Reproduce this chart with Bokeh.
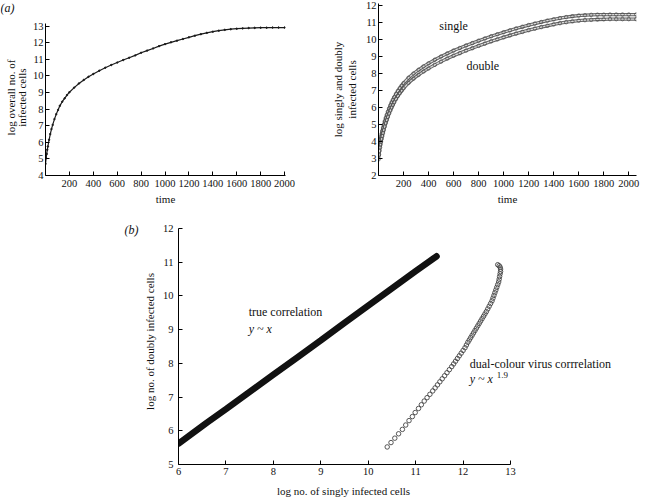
from math import pi
from bokeh.plotting import figure
from bokeh.layouts import column, row
from bokeh.models import FixedTicker, Label, Range1d
from bokeh.core.properties import value
from bokeh.embed import file_html
from bokeh.resources import INLINE

FONT = "Liberation Serif"

# ---- panel (a) left: overall infected cells ----
time_total = [0, 5, 10, 15, 20, 30, 40, 50, 60, 75, 90, 105, 120, 140, 160, 180, 200,
              240, 280, 320, 360, 400, 450, 500, 550, 600, 650, 700, 750, 800, 850, 900,
              950, 1000, 1050, 1100, 1150, 1200, 1250, 1300, 1350, 1400, 1450, 1500, 1550,
              1600, 1650, 1700, 1750, 1800, 1850, 1900, 1950, 2000]
log_total = [4.7, 5.05, 5.3, 5.55, 5.75, 6.15, 6.5, 6.8, 7.05, 7.4, 7.7, 7.95, 8.2, 8.45,
             8.65, 8.85, 9.02, 9.3, 9.55, 9.76, 9.95, 10.12, 10.32, 10.5, 10.66, 10.81,
             10.96, 11.1, 11.24, 11.4, 11.53, 11.66, 11.8, 11.92, 12.03, 12.13, 12.23,
             12.33, 12.43, 12.52, 12.6, 12.67, 12.73, 12.78, 12.82, 12.85, 12.87, 12.89,
             12.9, 12.91, 12.91, 12.92, 12.92, 12.92]

# ---- panel (a) right: singly and doubly infected cells ----
time_sd = [0, 4, 8, 12, 16, 20, 25, 30, 36, 42, 50, 58, 66, 75, 85, 95, 105, 115, 125,
           140, 155, 170, 185, 200, 240, 280, 320, 360, 400, 450, 500, 550, 600, 650, 700,
           750, 800, 850, 900, 950, 1000, 1050, 1100, 1150, 1200, 1250, 1300, 1350, 1400,
           1450, 1500, 1550, 1600, 1650, 1700, 1750, 1800, 1850, 1900, 1950, 2000, 2060]
log_single = [3.2, 3.5, 3.75, 3.95, 4.12, 4.28, 4.45, 4.62, 4.8, 4.97, 5.18, 5.38, 5.56,
              5.75, 5.95, 6.13, 6.3, 6.45, 6.6, 6.8, 6.98, 7.14, 7.29, 7.43, 7.75, 8.0,
              8.22, 8.42, 8.6, 8.81, 9.0, 9.18, 9.35, 9.5, 9.65, 9.79, 9.93, 10.06, 10.19,
              10.31, 10.43, 10.54, 10.65, 10.75, 10.85, 10.94, 11.03, 11.11, 11.19, 11.26,
              11.32, 11.37, 11.41, 11.43, 11.45, 11.46, 11.46, 11.47, 11.47, 11.47, 11.47,
              11.47]
log_double = [2.95, 3.22, 3.45, 3.65, 3.82, 3.98, 4.15, 4.32, 4.5, 4.67, 4.88, 5.08, 5.26,
              5.45, 5.65, 5.83, 6.0, 6.15, 6.3, 6.5, 6.68, 6.84, 6.99, 7.13, 7.45, 7.7,
              7.92, 8.12, 8.3, 8.51, 8.7, 8.88, 9.05, 9.2, 9.35, 9.49, 9.63, 9.76, 9.89,
              10.01, 10.13, 10.24, 10.35, 10.45, 10.55, 10.64, 10.73, 10.81, 10.89, 10.96,
              11.02, 11.07, 11.11, 11.14, 11.16, 11.18, 11.19, 11.2, 11.2, 11.2, 11.2, 11.2]

# ---- panel (b): correlations ----
true_x = [6.0, 6.3, 6.6, 7.0, 7.5, 8.0, 8.5, 9.0, 9.5, 10.0, 10.5, 11.0, 11.44]
true_y = [5.62, 5.93, 6.24, 6.64, 7.15, 7.66, 8.17, 8.68, 9.2, 9.71, 10.22, 10.73, 11.17]

dual_x = [10.40, 10.48, 10.56, 10.64, 10.72, 10.79, 10.86, 10.93, 10.99, 11.06, 11.12,
          11.18, 11.24, 11.30, 11.36, 11.41, 11.46, 11.51, 11.56, 11.61, 11.66, 11.71,
          11.76, 11.80, 11.84, 11.88, 11.92, 11.96, 12.00, 12.04, 12.07, 12.10, 12.13,
          12.16, 12.19, 12.22, 12.25, 12.28, 12.31, 12.34, 12.37, 12.40, 12.43, 12.46,
          12.49, 12.52, 12.55, 12.58, 12.61, 12.63, 12.65, 12.67, 12.69, 12.71, 12.73,
          12.75, 12.76, 12.77, 12.78, 12.79, 12.79, 12.78, 12.76, 12.73]
dual_y = [5.52, 5.65, 5.78, 5.91, 6.04, 6.17, 6.30, 6.42, 6.54, 6.66, 6.77, 6.88, 6.98,
          7.08, 7.18, 7.27, 7.36, 7.45, 7.54, 7.63, 7.72, 7.81, 7.90, 7.98, 8.06, 8.14,
          8.22, 8.30, 8.38, 8.46, 8.54, 8.62, 8.69, 8.76, 8.83, 8.90, 8.97, 9.04, 9.11,
          9.18, 9.25, 9.32, 9.39, 9.46, 9.53, 9.61, 9.69, 9.77, 9.85, 9.93, 10.01, 10.09,
          10.17, 10.25, 10.33, 10.41, 10.49, 10.57, 10.65, 10.72, 10.79, 10.85, 10.89,
          10.92]

time_ticks = [200, 400, 600, 800, 1000, 1200, 1400, 1600, 1800, 2000]
total_ticks = [4, 5, 6, 7, 8, 9, 10, 11, 12, 13]
sd_ticks = [2, 3, 4, 5, 6, 7, 8, 9, 10, 11, 12]
single_ticks = [6, 7, 8, 9, 10, 11, 12, 13]
double_ticks = [5, 6, 7, 8, 9, 10, 11, 12]


def style(p, xt, yt):
    p.xaxis.ticker = FixedTicker(ticks=xt)
    p.yaxis.ticker = FixedTicker(ticks=yt)
    for ax in p.axis:
        ax.major_tick_in = 4
        ax.major_tick_out = 0
        ax.minor_tick_line_color = None
        ax.axis_line_color = "black"
        ax.major_tick_line_color = "black"
        ax.major_label_text_font = FONT
        ax.major_label_text_font_size = "10.5px"
        ax.major_label_text_color = "#111111"
        ax.axis_label_text_font = FONT
        ax.axis_label_text_font_size = "11px"
        ax.axis_label_text_font_style = "normal"
        ax.axis_label_text_color = "#111111"
        ax.major_label_standoff = 4
        ax.axis_label_standoff = 3
    p.xgrid.visible = False
    p.ygrid.visible = False
    p.outline_line_color = None
    p.background_fill_color = "white"
    p.border_fill_color = "white"


def add_text(p, x, y, txt, size="12px", style_="normal", align="left", xoff=0):
    p.add_layout(Label(x=x, y=y, text=txt, text_font=FONT, text_font_size=size,
                       text_font_style=style_, text_align=align, text_baseline="middle",
                       x_offset=xoff, text_color="#111111"))


def blank(width, height, x_range, y_range, top, bottom):
    q = figure(width=width, height=height, output_backend="svg", toolbar_location=None,
               x_range=x_range, y_range=y_range, x_axis_type=None, y_axis_type=None,
               min_border_left=0, min_border_right=0, min_border_top=top,
               min_border_bottom=bottom)
    q.outline_line_color = None
    q.background_fill_color = "white"
    q.border_fill_color = "white"
    return q


# ---------- figure 1 ----------
p1 = figure(width=300, height=212, output_backend="svg", toolbar_location=None,
            x_range=Range1d(0, 2008), y_range=Range1d(4, 14.37),
            min_border_left=17, min_border_right=43, min_border_top=3, min_border_bottom=37)
style(p1, time_ticks, total_ticks)
p1.yaxis.bounds = (4, 13.15)
p1.yaxis.major_label_standoff = 2
p1.xaxis.axis_label = "time"
p1.line(time_total, log_total, line_color="#1a1a1a", line_width=1.2)
p1.scatter(time_total, log_total, size=1.5, color="#1a1a1a")

# strip left of figure 1: panel letter and y-axis title
pa = blank(28, 212, Range1d(0, 28), p1.y_range, 3, 37)
pa.text(x=[7], y=[14.07], text=["(a)"], text_font=value(FONT),
        text_font_size=value("12px"), text_font_style=value("italic"),
        text_align="center", text_baseline="middle", text_color="#111111")
pa.text(x=[10, 21.5], y=[8.7, 8.7], text=["log overall no. of", "infected cells"],
        angle=pi / 2, text_font=value(FONT), text_font_size=value("11px"),
        text_align="center", text_baseline="middle", text_color="#111111")

# ---------- figure 2 ----------
p2 = figure(width=320, height=212, output_backend="svg", toolbar_location=None,
            x_range=Range1d(0, 2062), y_range=Range1d(2, 12.12),
            min_border_left=44, min_border_right=12, min_border_top=3, min_border_bottom=37)
style(p2, time_ticks, sd_ticks)
p2.yaxis.major_label_standoff = 2
p2.yaxis.axis_label_standoff = 5
p2.xaxis.axis_label = "time"
p2.yaxis.axis_label = "log singly and doubly\ninfected cells"
for ys in (log_single, log_double):
    p2.line(time_sd, ys, line_color="#666666", line_width=3.3)
    p2.line(time_sd, ys, line_color="#dddddd", line_width=1.2)
    p2.scatter(time_sd, ys, marker="circle", size=3.5, fill_color=None,
               line_color="#4a4a4a", line_width=0.7)
add_text(p2, 600, 10.8, "single", align="center")
add_text(p2, 833, 8.42, "double", align="center")

# ---------- figure 3 ----------
p3 = figure(width=508, height=269, output_backend="svg", toolbar_location=None,
            x_range=Range1d(6, 15.74), y_range=Range1d(5, 12.29),
            min_border_left=38, min_border_right=8, min_border_top=6, min_border_bottom=17)
style(p3, single_ticks, double_ticks)
p3.xaxis.bounds = (6, 13)
p3.yaxis.bounds = (5, 12)
p3.xaxis.major_label_standoff = 3
p3.yaxis.major_label_standoff = 5
p3.yaxis.axis_label_standoff = 4
p3.yaxis.axis_label = "log no. of doubly infected cells"
p3.line(true_x, true_y, line_color="#111111", line_width=6.5, line_cap="round")
p3.scatter(dual_x, dual_y, marker="circle", size=4.5, fill_color=None,
           line_color="#444444", line_width=0.9)
add_text(p3, 7.48, 9.51, "true correlation")
add_text(p3, 7.48, 9.02, "y ~ x", style_="italic")
add_text(p3, 12.14, 7.99, "dual-colour virus corrrelation")
add_text(p3, 12.14, 7.54, "y ~ x", style_="italic")
add_text(p3, 12.14, 7.64, "1.9", size="9px", xoff=27)

# strip left of figure 3: panel letter
pb = blank(140, 269, Range1d(0, 140), p3.y_range, 6, 17)
pb.text(x=[131], y=[11.94], text=["(b)"], text_font=value(FONT),
        text_font_size=value("12px"), text_font_style=value("italic"),
        text_align="center", text_baseline="middle", text_color="#111111")

# strip below figure 3: x-axis title
pl = blank(648, 16, Range1d(0, 648), Range1d(16, 0), 0, 0)
pl.text(x=[343], y=[9], text=["log no. of singly infected cells"], text_font=value(FONT),
        text_font_size=value("11px"), text_align="center", text_baseline="middle",
        text_color="#111111")

layout = column(row(pa, p1, p2), row(pb, p3), pl)
open("out.html", "w").write(file_html(layout, INLINE))
